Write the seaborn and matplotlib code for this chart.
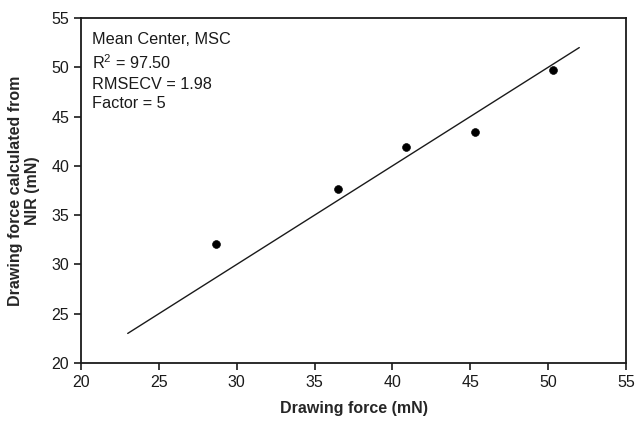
import matplotlib
matplotlib.use("Agg")
import matplotlib.pyplot as plt
import seaborn as sns
import pandas as pd

measured = [28.7, 36.5, 40.9, 45.3, 50.3]
predicted = [32.1, 37.7, 41.9, 43.4, 49.7]
line_x = [23.0, 52.0]
line_y = [23.0, 52.0]
ticks = [20, 25, 30, 35, 40, 45, 50, 55]
annotation = "Mean Center, MSC\n$\\mathregular{R^2}$ = 97.50\nRMSECV = 1.98\nFactor = 5"

sns.set_theme(style="ticks")
plt.rcParams['font.family'] = ['Liberation Sans', 'DejaVu Sans']
plt.rcParams['mathtext.fontset'] = 'custom'
plt.rcParams['mathtext.rm'] = 'Liberation Sans'

df = pd.DataFrame({"x": measured, "y": predicted})
fig = plt.figure(figsize=(6.36, 4.22), dpi=100)
ax = fig.add_axes([81/636, 1-363/422, 545/636, 345/422])

sns.lineplot(x=line_x, y=line_y, ax=ax, color="#1a1a1a", linewidth=1.0)
sns.scatterplot(data=df, x="x", y="y", ax=ax, color="black", s=32, edgecolor="black", zorder=3)

ax.set_xlim(20, 55)
ax.set_ylim(20, 55)
ax.set_xticks(ticks)
ax.set_yticks(ticks)
ax.tick_params(direction="out", length=5, width=1.2, labelsize=11.5, colors="#1a1a1a")
for sp in ax.spines.values():
    sp.set_visible(True)
    sp.set_linewidth(1.3)
    sp.set_color("#1a1a1a")

ax.set_xlabel("Drawing force (mN)", fontsize=11.5, fontweight="bold", labelpad=8)
ax.set_ylabel("Drawing force calculated from\nNIR (mN)", fontsize=11.5, fontweight="bold", labelpad=8)

ax.text(0.02, 0.96, annotation, transform=ax.transAxes, ha="left", va="top",
        fontsize=11.7, linespacing=1.4, color="#1a1a1a")

fig.savefig("out.png", dpi=100)
